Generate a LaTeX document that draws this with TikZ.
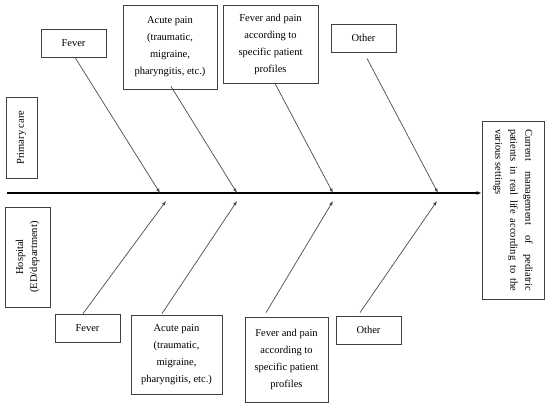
\documentclass[tikz,border=0pt]{standalone}
\usepackage{fontspec}
\setmainfont{Liberation Serif}
\usetikzlibrary{arrows.meta,calc}
\tikzset{
  box/.style={draw=black!75, line width=0.8pt, inner sep=0pt, align=center,
    font=\fontsize{10.5}{17}\selectfont},
  arr/.style={draw=black!70, line width=0.7pt, -{Latex[length=4.5pt,width=3.5pt]}},
  spine/.style={draw=black, line width=1.2pt, -{Latex[length=5pt,width=4pt]}}
}
\begin{document}
\begin{tikzpicture}[x=1pt,y=-1pt]
\useasboundingbox[fill=white] (0,0) rectangle (550,407);
% top boxes
\node[box, minimum width=65pt, minimum height=28pt] (tf) at (73.5,43) {Fever};
\node[box, minimum width=94pt, minimum height=84pt] (ta) at (170,47) {Acute pain\\(traumatic,\\migraine,\\pharyngitis, etc.)};
\node[box, minimum width=95pt, minimum height=78pt] (tp) at (270.5,44) {Fever and pain\\according to\\specific patient\\profiles};
\node[box, minimum width=65pt, minimum height=28pt] (to) at (363.5,38) {Other};
% bottom boxes
\node[box, minimum width=65pt, minimum height=28pt] (bf) at (87.5,328) {Fever};
\node[box, minimum width=91pt, minimum height=79pt] (ba) at (176.5,354.5) {Acute pain\\(traumatic,\\migraine,\\pharyngitis, etc.)};
\node[box, minimum width=83pt, minimum height=85pt] (bp) at (286.5,359.5) {Fever and pain\\according to\\specific patient\\profiles};
\node[box, minimum width=65pt, minimum height=28pt] (bo) at (368.5,330) {Other};
% side boxes
\node[box, minimum width=81pt, minimum height=31pt, rotate=90] (pc) at (21.5,137.5) {Primary care};
\node[box, minimum width=100pt, minimum height=45pt, rotate=90, font=\fontsize{10.5}{14}\selectfont] (hb) at (27.5,257) {Hospital\\(ED/department)};
\node[box, minimum width=178pt, minimum height=62pt, rotate=-90, align=justify,
  text width=162pt, font=\fontsize{10.5}{15}\selectfont] (eff) at (513,210)
  {Current management of pediatric\linebreak patients in real life according to the\linebreak various settings};
% spine
\coordinate (s0) at (7,193);
\draw[spine] (s0) -- (s0 -| eff.south);
% heads
\coordinate (h1) at (160,193);
\coordinate (h2) at (237,193);
\coordinate (h3) at (333,193);
\coordinate (h4) at (438,193);
\coordinate (g1) at (166,201);
\coordinate (g2) at (237,201);
\coordinate (g3) at (333,201);
\coordinate (g4) at (437,201);
% top connectors
\draw[arr] ($(tf.south)+(1.5,0)$) -- (h1);
\draw[arr] ($(ta.south)+(1,-3)$) -- (h2);
\draw[arr] ($(tp.south)+(4.5,0)$) -- (h3);
\draw[arr] ($(to.south)+(3.5,6)$) -- (h4);
% bottom connectors
\draw[arr] ($(bf.north)+(-4.5,0)$) -- (g1);
\draw[arr] ($(ba.north)+(-14.5,-1)$) -- (g2);
\draw[arr] ($(bp.north)+(-20.5,-4)$) -- (g3);
\draw[arr] ($(bo.north)+(-8.5,-3)$) -- (g4);
\end{tikzpicture}
\end{document}
